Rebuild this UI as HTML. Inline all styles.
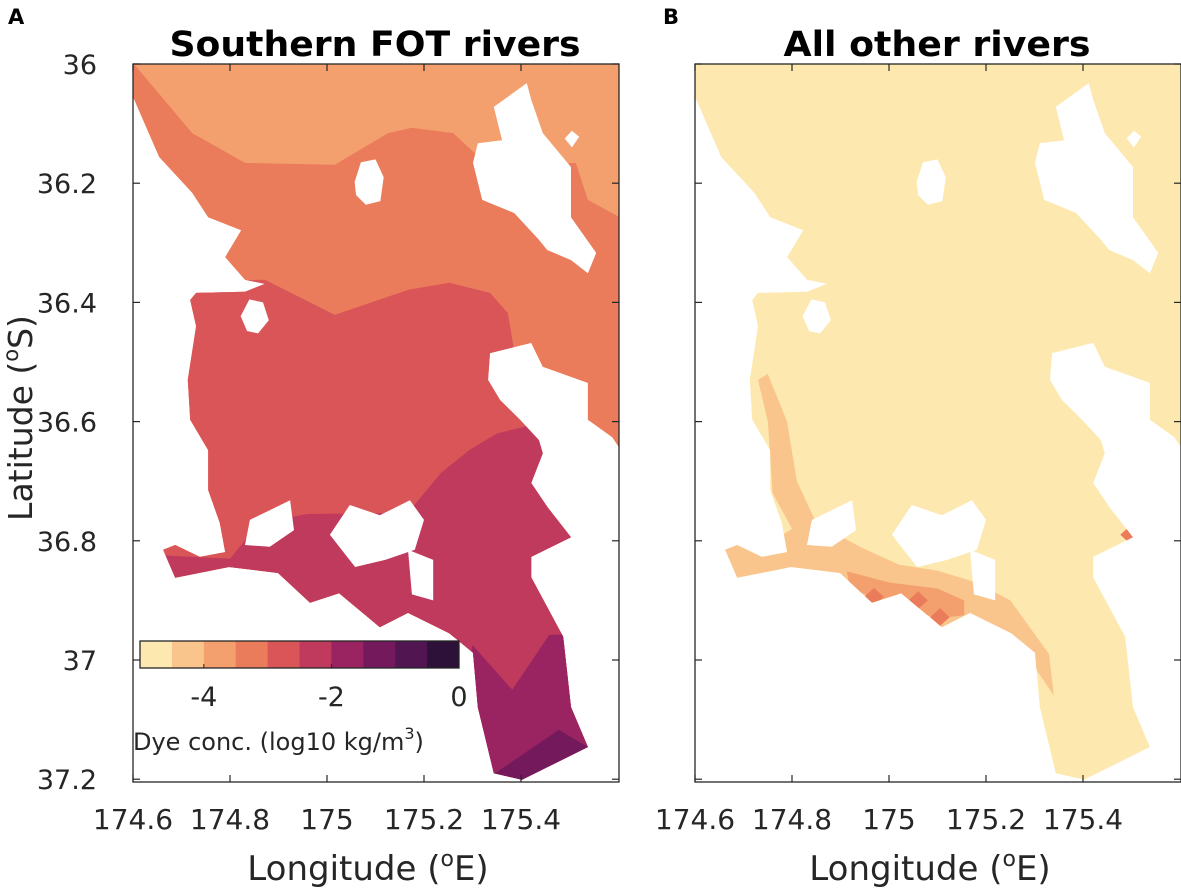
<!DOCTYPE html>
<html><head><meta charset="utf-8"><style>
html,body{margin:0;padding:0;background:#fff;}
svg{display:block;font-family:"DejaVu Sans","Liberation Sans",sans-serif;}
</style></head><body>
<svg id="fig" width="1181" height="890" viewBox="0 0 1181 890" xmlns="http://www.w3.org/2000/svg">
<defs id="defs"></defs>
<g id="root"></g>
</svg>
<script>
// ---- data ----
const lonTicks = [174.6, 174.8, 175, 175.2, 175.4];
const lonTickLabels = ["174.6", "174.8", "175", "175.2", "175.4"];
const latTicks = [36, 36.2, 36.4, 36.6, 36.8, 37, 37.2];
const latTickLabels = ["36", "36.2", "36.4", "36.6", "36.8", "37", "37.2"];
const cbarLevels = [-5, -4.5, -4, -3.5, -3, -2.5, -2, -1.5, -1, -0.5];
const cbarColors = ["#fde9b0","#f9c58c","#f3a06e","#ea7b5b","#da5558","#bf3a5c","#9a2461","#75195d","#511651","#2d1138"];
const cbarTicks = [-4, -2, 0];
const cbarTickLabels = ["-4", "-2", "0"];
// geography: offsets in degrees from (174.6E, 36S)
const water = [[0,0],[1.002,0],[1.002,.643],[.988,.626],[.938,.597],[.938,.535],[.845,.508],[.821,.468],[.736,.485],[.732,.530],[.757,.564],[.798,.597],[.837,.631],[.845,.653],[.821,.703],[.854,.743],[.903,.794],[.821,.827],[.821,.861],[.887,.961],[.903,1.079],[.938,1.146],[.802,1.201],[.744,1.190],[.711,1.079],[.701,.988],[.652,.955],[.567,.921],[.509,.945],[.425,.888],[.365,.904],[.299,.854],[.198,.844],[.087,.862],[.062,.815],[.087,.807],[.138,.827],[.190,.819],[.179,.770],[.155,.715],[.155,.648],[.118,.597],[.113,.530],[.130,.440],[.118,.396],[.130,.384],[.231,.382],[.272,.369],[.231,.362],[.190,.324],[.223,.279],[.155,.257],[.122,.216],[.054,.156],[0,.055]];
const greatBarrier = [[.812,.032],[.744,.072],[.761,.128],[.711,.133],[.701,.166],[.720,.228],[.786,.250],[.837,.295],[.854,.312],[.903,.329],[.938,.351],[.955,.317],[.903,.257],[.903,.173],[.845,.116],[.821,.060]];
const littleBarrier = [[.457,.198],[.470,.165],[.500,.160],[.517,.190],[.510,.230],[.480,.236],[.460,.220]];
const kawau = [[.222,.423],[.240,.395],[.268,.400],[.280,.430],[.258,.452],[.235,.448]];
const smallIsle = [[.890,.125],[.905,.112],[.920,.122],[.905,.140]];
const waiheke = [[.406,.790],[.447,.740],[.509,.757],[.571,.732],[.600,.765],[.581,.815],[.520,.832],[.458,.844]];
const inlet = [[.241,.765],[.324,.732],[.332,.782],[.282,.810],[.231,.807]];
const ponui = [[.567,.815],[.619,.832],[.619,.900],[.575,.890]];
// panel A concentration band boundaries (lower edge of each band)
const bandA1 = [[-.05,-.05],[.122,.116],[.231,.166],[.416,.169],[.526,.116],[.575,.107],[.660,.116],[.736,.173],[.913,.166],[.938,.228],[1.1,.30]];
const bandA2 = [[-.05,.366],[.272,.362],[.416,.421],[.567,.379],[.652,.367],[.736,.384],[.773,.418],[.82,.65],[1.1,.70]];
const bandA3 = [[-.05,.82],[.20,.83],[.26,.77],[.36,.755],[.567,.753],[.635,.686],[.693,.648],[.75,.62],[.85,.60],[.93,.66],[1.1,.68]];
const bandA4 = [[.6,1.3],[.70,.975],[.782,1.05],[.858,.958],[1.1,.95]];
const bandA5 = [[.70,1.3],[.736,1.196],[.878,1.117],[.938,1.146],[1.1,1.1]];
// panel B coastal plume
const plumeB1 = [[.05,.80],[.14,.81],[.20,.78],[.16,.72],[.15,.60],[.13,.53],[.15,.52],[.19,.60],[.21,.70],[.25,.77],[.34,.81],[.42,.84],[.50,.85],[.58,.87],[.65,.90],[.73,.99],[.74,1.06],[.69,1.0],[.60,.96],[.50,.95],[.40,.91],[.30,.89],[.20,.865],[.08,.88]];
const plumeB2 = [[.313,.851],[.40,.87],[.50,.88],[.555,.90],[.555,.925],[.50,.93],[.40,.905],[.32,.88]];
const spotsB = [[.369,.894],[.505,.928],[.897,.790],[.46,.90],[.11,.80]];

// ---- layout ----
const NS = "http://www.w3.org/2000/svg";
const root = document.getElementById('root');
const defs = document.getElementById('defs');
const Y0 = 64, PY = 596, PX = 485, W = 486, H = 718;
function mk(tag, attrs, parent){const e=document.createElementNS(NS,tag);for(const k in attrs)e.setAttribute(k,attrs[k]);(parent||root).appendChild(e);return e;}
function px(x0,dlon){return x0 + dlon*PX;}
function py(dlat){return Y0 + dlat*PY;}
function pts(x0,arr){return arr.map(p=>px(x0,p[0]).toFixed(1)+","+py(p[1]).toFixed(1)).join(" ");}
function below(x0,arr){return pts(x0,arr)+" "+px(x0,1.2)+","+py(1.4)+" "+px(x0,-0.1)+","+py(1.4);}

function panel(id, x0, title, letter, letterX, titleLen, titleX){
  const g = mk('g',{});
  
  
  const cp = mk('clipPath',{id:id+'-water'},defs);
  mk('polygon',{points:pts(x0,water)},cp);
  const cpAx = mk('clipPath',{id:id+'-ax'},defs);
  mk('rect',{x:x0,y:Y0,width:W,height:H},cpAx);
  const mg = mk('g',{'clip-path':'url(#'+id+'-ax)'},g);
  const wg = mk('g',{'clip-path':'url(#'+id+'-water)'},mg);
  
  
  return {g, mg, wg, x0, title, letter, id, letterX, titleLen, titleX};
}
function islands(P){
  [greatBarrier,littleBarrier,kawau,smallIsle,waiheke,inlet,ponui].forEach((isl,i)=>{
    const e = mk('polygon',{points:pts(P.x0,isl),fill:'#fff'},P.mg);
    
    
  });
}
function axes(P, showY){
  const x0=P.x0, g=P.g;
  const fr = mk('rect',{x:x0,y:Y0,width:W,height:H,fill:'none',stroke:'#262626','stroke-width':1.3},g);
  
  
  lonTicks.forEach((t,i)=>{
    const x = px(x0,t-174.6);
    mk('line',{x1:x,y1:Y0+H,x2:x,y2:Y0+H-7,stroke:'#262626','stroke-width':1.2},g);
    mk('line',{x1:x,y1:Y0,x2:x,y2:Y0+7,stroke:'#262626','stroke-width':1.2},g);
    const tx = mk('text',{x:x,y:829,'font-size':28,'text-anchor':'middle',fill:'#262626'},g);
    tx.textContent = lonTickLabels[i];
    
    
  });
  latTicks.forEach((t,i)=>{
    const y = py(t-36);
    mk('line',{x1:x0,y1:y,x2:x0+7,y2:y,stroke:'#262626','stroke-width':1.2},g);
    mk('line',{x1:x0+W,y1:y,x2:x0+W-7,y2:y,stroke:'#262626','stroke-width':1.2},g);
    if(showY){
      const tx = mk('text',{x:97,y:y+10,'font-size':27,'text-anchor':'end',fill:'#262626'},g);
      tx.textContent = latTickLabels[i];
      
      
    }
  });
  const xl = mk('text',{x:x0+W/2-8,y:880,'font-size':34,'text-anchor':'middle',fill:'#262626'},g);
  xl.innerHTML = 'Longitude (<tspan dy="-14" font-size="22">o</tspan><tspan dy="14">E)</tspan>';
  
  
  const ti = mk('text',{x:P.titleX,y:56,'font-size':35,'font-weight':'bold','text-anchor':'middle',fill:'#000',textLength:P.titleLen,lengthAdjust:'spacingAndGlyphs'},g);
  ti.textContent = P.title;
  
  
  const le = mk('text',{x:P.letterX,y:24,'font-size':21,'font-weight':'bold',fill:'#000'},g);
  le.textContent = P.letter;
  
  
}

// Panel A
const A = panel('panel-a', 133, 'Southern FOT rivers', 'A', 8, 411, 375);
mk('rect',{x:133,y:Y0,width:W,height:H,fill:cbarColors[2]},A.wg);
[[bandA1,3],[bandA2,4],[bandA3,5],[bandA4,6],[bandA5,7]].forEach(b=>{
  const e = mk('polygon',{points:below(133,b[0]),fill:cbarColors[b[1]]},A.wg);
  
  
});
islands(A);
axes(A, true);
const yl = mk('text',{x:0,y:0,'font-size':33,'text-anchor':'middle',fill:'#262626',transform:'translate(32,418) rotate(-90)'},A.g);
yl.innerHTML = 'Latitude (<tspan dy="-14" font-size="21">o</tspan><tspan dy="14">S)</tspan>';



// Colorbar
const cb = mk('g',{});


const cbX = 140, cbW = 319, cbY = 641, cbH = 27;
function cx(v){return cbX + (v+5)/5*cbW;}
cbarLevels.forEach((lv,i)=>{
  const e = mk('rect',{x:cx(lv),y:cbY,width:cbW/10+0.5,height:cbH,fill:cbarColors[i]},cb);
  
  
});
mk('rect',{x:cbX,y:cbY,width:cbW,height:cbH,fill:'none',stroke:'#262626','stroke-width':1.3},cb);
cbarTicks.forEach((t,i)=>{
  mk('line',{x1:cx(t),y1:cbY+cbH,x2:cx(t),y2:cbY+cbH-4,stroke:'#262626'},cb);
  const tx = mk('text',{x:cx(t),y:706,'font-size':27,'text-anchor':'middle',fill:'#262626'},cb);
  tx.textContent = cbarTickLabels[i];
  
  
});
const cbl = mk('text',{x:133,y:750,'font-size':24,fill:'#262626'},cb);
cbl.innerHTML = 'Dye conc. (log10 kg/m<tspan dy="-11" font-size="16">3</tspan><tspan dy="11">)</tspan>';



// Panel B
const B = panel('panel-b', 695, 'All other rivers', 'B', 663, 307, 937);
mk('rect',{x:695,y:Y0,width:W,height:H,fill:cbarColors[0]},B.wg);
const p1 = mk('polygon',{points:pts(695,plumeB1),fill:cbarColors[1]},B.wg);


const p2 = mk('polygon',{points:pts(695,plumeB2),fill:cbarColors[2]},B.wg);


spotsB.forEach(s=>{
  const e = mk('polygon',{points:pts(695,[[s[0]-.02,s[1]],[s[0],s[1]-.015],[s[0]+.02,s[1]],[s[0],s[1]+.015]]),fill:cbarColors[3]},B.wg);
  
  
});
islands(B);
axes(B, false);
</script>
</body></html>
